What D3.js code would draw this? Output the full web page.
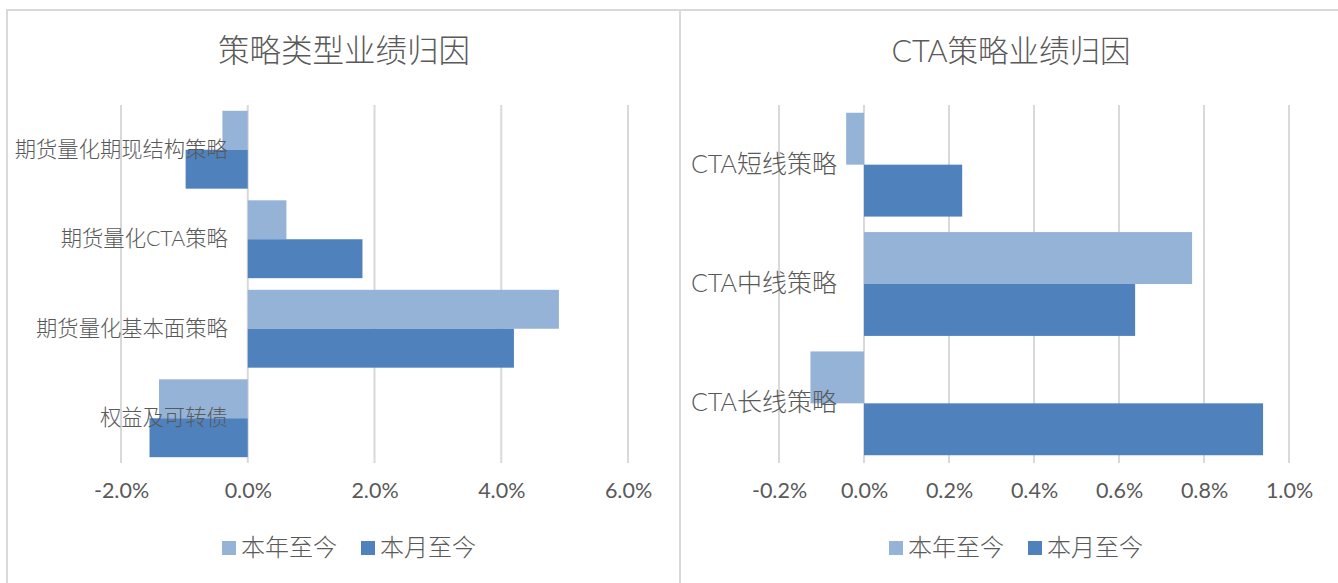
<!DOCTYPE html>
<html>
<head>
<meta charset="utf-8">
<script src="https://cdn.jsdelivr.net/npm/d3@7"></script>
<style>
  body { margin: 0; background: #fff; }
  text { font-family: Lato, "Noto Sans CJK SC", sans-serif; fill: #595959; font-weight: 300; }
  .tick-x text { font-weight: 400; }
</style>
</head>
<body>
<div id="wrap"></div>
<script>
// data
var seriesNames = ['本年至今', '本月至今'];
var seriesColors = ['#95b3d7', '#4f81bd'];

var leftTitle = '策略类型业绩归因';
var leftCats = ['期货量化期现结构策略', '期货量化CTA策略', '期货量化基本面策略', '权益及可转债'];
var leftYtd = [-0.40, 0.61, 4.91, -1.40];
var leftMtd = [-0.98, 1.81, 4.20, -1.55];
var leftTicks = [-2, 0, 2, 4, 6];

var rightTitle = 'CTA策略业绩归因';
var rightCats = ['CTA短线策略', 'CTA中线策略', 'CTA长线策略'];
var rightYtd = [-0.042, 0.772, -0.126];
var rightMtd = [0.231, 0.638, 0.939];
var rightTicks = [-0.2, 0, 0.2, 0.4, 0.6, 0.8, 1.0];

var W = 1338, H = 583;

var svg = d3.select('#wrap').append('svg')
  .attr('width', W)
  .attr('height', H);

// frame lines
var frame = svg.append('g').attr('stroke', '#d9d9d9').attr('stroke-width', 2);
frame.append('line').attr('x1', 6).attr('x2', W).attr('y1', 10).attr('y2', 10);
frame.append('line').attr('x1', 7).attr('x2', 7).attr('y1', 10).attr('y2', H);
frame.append('line').attr('x1', 680).attr('x2', 680).attr('y1', 10).attr('y2', H);

function drawPanel(cfg) {
  var g = svg.append('g');

  var x = d3.scaleLinear()
    .domain(d3.extent(cfg.ticks))
    .range([cfg.x0, cfg.x1]);

  var y = d3.scaleBand()
    .domain(cfg.cats)
    .range([105, 463])
    .paddingInner(0.13)
    .paddingOuter(0.065);

  var ys = d3.scaleBand()
    .domain(seriesNames)
    .range([0, y.bandwidth()]);

  // title
  g.append('text')
    .attr('x', cfg.cx)
    .attr('y', 62)
    .attr('text-anchor', 'middle')
    .style('font-size', cfg.titleSize + 'px')
    .text(cfg.title);

  // grid
  g.selectAll('.grid')
    .data(cfg.ticks)
    .enter().append('line')
      .attr('class', 'grid')
      .attr('x1', function(d){return x(d);})
      .attr('x2', function(d){return x(d);})
      .attr('y1', 105)
      .attr('y2', 463)
      .attr('stroke', '#d9d9d9')
      .attr('stroke-width', 2);

  var rows = cfg.cats.map(function(c, i){
    return [
      {cat: c, s: seriesNames[0], v: cfg.ytd[i], col: seriesColors[0]},
      {cat: c, s: seriesNames[1], v: cfg.mtd[i], col: seriesColors[1]}
    ];
  });

  g.selectAll('.bar')
    .data(d3.merge(rows))
    .enter().append('rect')
      .attr('class', 'bar')
      .attr('x', function(d){return x(Math.min(0, d.v));})
      .attr('width', function(d){return Math.abs(x(d.v) - x(0));})
      .attr('y', function(d){return y(d.cat) + ys(d.s);})
      .attr('height', ys.bandwidth())
      .attr('fill', function(d){return d.col;});

  // x axis labels
  var xAxis = d3.axisBottom(x)
    .tickValues(cfg.ticks)
    .tickSize(0)
    .tickPadding(0)
    .tickFormat(function(d){return d.toFixed(1) + '%';});
  var ax = g.append('g')
    .attr('class', 'tick-x')
    .attr('transform', 'translate(0,' + 479 + ')')
    .call(xAxis);
  ax.select('.domain').remove();
  ax.selectAll('text')
    .attr('fill', null)
    .style('font-size', '21.5px')
    .attr('dy', '0.9em')
    .attr('font-family', null);

  // category labels on top
  var yAxis = d3.axisLeft(y)
    .tickSize(0)
    .tickPadding(cfg.labelPad);
  var ay = g.append('g')
    .attr('transform', 'translate(' + x(0) + ',0)')
    .call(yAxis);
  ay.select('.domain').remove();
  ay.selectAll('text')
    .attr('fill', null)
    .attr('font-family', null)
    .style('font-size', cfg.labelSize + 'px');

  // legend
  var lg = g.append('g')
    .attr('transform', 'translate(' + (cfg.cx - 122) + ',548)');
  var items = lg.selectAll('.leg')
    .data(seriesNames)
    .enter().append('g')
      .attr('transform', function(d, i){return 'translate(' + (i * 139) + ',0)';});
  items.append('rect')
    .attr('x', 0).attr('y', -7)
    .attr('width', 14).attr('height', 14)
    .attr('fill', function(d, i){return seriesColors[i];});
  items.append('text')
    .attr('x', 19)
    .attr('y', 8)
    .style('font-size', '24px')
    .text(function(d){return d;});
}

drawPanel({
  title: leftTitle, cats: leftCats, ytd: leftYtd, mtd: leftMtd, ticks: leftTicks,
  x0: 121, x1: 628, cx: 344, labelPad: 20, labelSize: 21.3, titleSize: 31.5
});
drawPanel({
  title: rightTitle, cats: rightCats, ytd: rightYtd, mtd: rightMtd, ticks: rightTicks,
  x0: 779, x1: 1289, cx: 1011, labelPad: 27, labelSize: 25, titleSize: 30.5
});
</script>
</body>
</html>
